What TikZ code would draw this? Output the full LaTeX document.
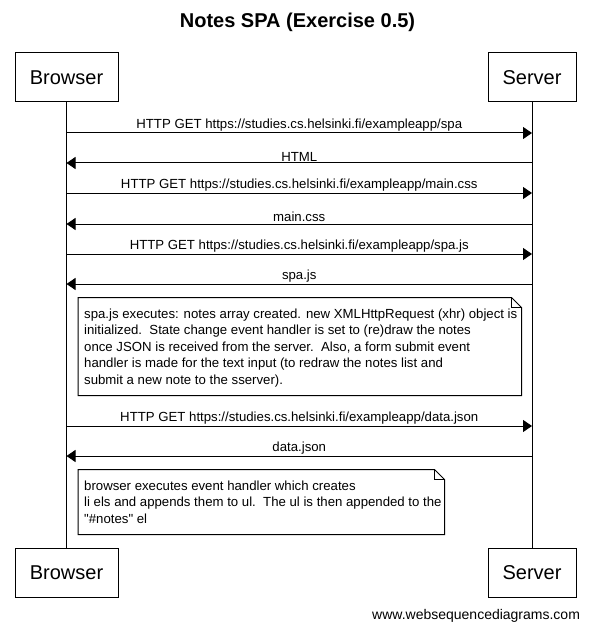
\documentclass[tikz,border=0pt]{standalone}
\usepackage{fontspec}
\setmainfont{Liberation Sans}[Ligatures=TeXOff]
\usetikzlibrary{arrows.meta, positioning, calc}

\begin{document}
\begin{tikzpicture}[
  x=1pt, y=-1pt,
  font=\fontsize{13.2}{15}\selectfont,
  actor/.style={draw, line width=1pt, minimum height=49pt, inner sep=0pt, font=\fontsize{20}{24}\selectfont},
  life/.style={line width=1pt},
  msg/.style={line width=1pt, -{Triangle[length=9pt, width=12pt]}},
  msglabel/.style={midway, above=1.5pt, inner sep=0pt},
  notebox/.style={line width=1pt, fill=white},
  notetext/.style={anchor=north west, align=left, inner sep=0pt, font=\fontsize{13.2}{16.5}\selectfont}
]
  \useasboundingbox (0,0) rectangle (592,631);

  % title
  \node[font=\fontsize{20}{24}\selectfont\bfseries] (title) at (297.5,22) {Notes SPA (Exercise 0.5)};

  % participants
  \node[actor, minimum width=103pt] (browserTop) at (66.5,77.5) {Browser};
  \node[actor, minimum width=88pt] (serverTop) at (532,77.5) {Server};
  \node[actor, minimum width=103pt] (browserBot) at (66.5,572.5) {Browser};
  \node[actor, minimum width=88pt] (serverBot) at (532,572.5) {Server};
  \draw[life] (browserTop.south) -- (browserBot.north);
  \draw[life] (serverTop.south) -- (serverBot.north);

  % message end points on the lifelines
  \foreach \n/\y in {1/133, 2/163, 3/193, 4/224, 5/254, 6/284, 7/426, 8/456} {
    \coordinate (b\n) at (66.5,\y);
    \coordinate (s\n) at (532,\y);
  }

  \draw[msg] (b1) -- node[msglabel] {HTTP GET https://studies.cs.helsinki.fi/exampleapp/spa} (s1);
  \draw[msg] (s2) -- node[msglabel] {HTML} (b2);
  \draw[msg] (b3) -- node[msglabel] {HTTP GET https://studies.cs.helsinki.fi/exampleapp/main.css} (s3);
  \draw[msg] (s4) -- node[msglabel] {main.css} (b4);
  \draw[msg] (b5) -- node[msglabel] {HTTP GET https://studies.cs.helsinki.fi/exampleapp/spa.js} (s5);
  \draw[msg] (s6) -- node[msglabel] {spa.js} (b6);

  % note after spa.js
  \draw[notebox] (78,297.5) -- (511.5,297.5) -- (521.5,307.5) -- (521.5,395.5) -- (78,395.5) -- cycle;
  \draw[line width=1pt] (511.5,297.5) -- (511.5,307.5) -- (521.5,307.5);
  \node[notetext] (note1) at (84,308.5) {spa.js executes: notes array created. new XMLHttpRequest (xhr) object is\\
    initialized.\ \ State change event handler is set to (re)draw the notes\\
    once JSON is received from the server.\ \ Also, a form submit event\\
    handler is made for the text input (to redraw the notes list and\\
    submit a new note to the sserver).};

  \draw[msg] (b7) -- node[msglabel] {HTTP GET https://studies.cs.helsinki.fi/exampleapp/data.json} (s7);
  \draw[msg] (s8) -- node[msglabel] {data.json} (b8);

  % note after data.json
  \draw[notebox] (78,469.5) -- (434.5,469.5) -- (444.5,479.5) -- (444.5,534.5) -- (78,534.5) -- cycle;
  \draw[line width=1pt] (434.5,469.5) -- (434.5,479.5) -- (444.5,479.5);
  \node[notetext] (note2) at (84,480.5) {browser executes event handler which creates\\
    li els and appends them to ul.\ \ The ul is then appended to the\\
    "\#notes" el};

  \node[anchor=east, font=\fontsize{14}{16}\selectfont] (footer) at (583.5,616) {www.websequencediagrams.com};
\end{tikzpicture}
\end{document}
